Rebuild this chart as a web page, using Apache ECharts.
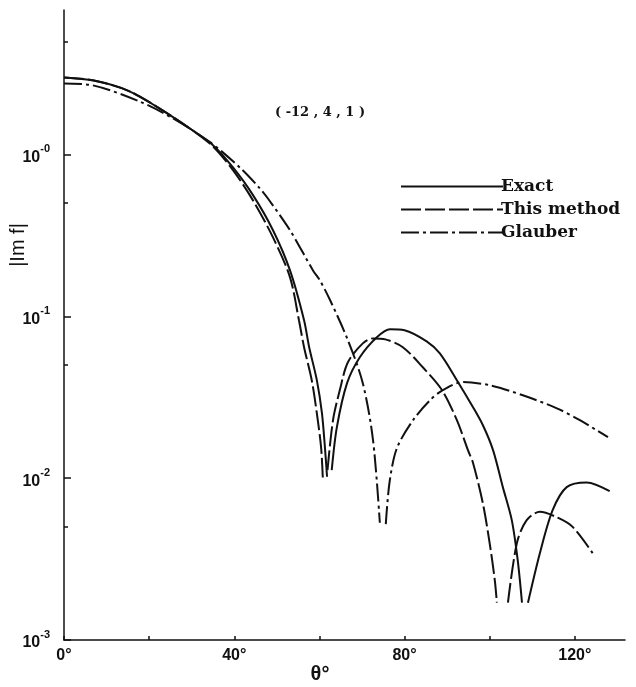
<!DOCTYPE html>
<html>
<head>
<meta charset="utf-8">
<title>|Im f| vs θ</title>
<script src="https://cdn.jsdelivr.net/npm/echarts@6/dist/echarts.min.js"></script>
<style>
  html, body { margin: 0; padding: 0; background: #fff; }
  #chart { width: 636px; height: 687px; }
</style>
</head>
<body>
<div id="chart"></div>
<script>
// angles in degrees, |Im f|; null = gap where the curve hits zero
const exactTheta = [0, 7, 15, 22.5, 30, 35, 39.7, 44.4, 49.1, 53.1, 56.4, 57.6, 59.4, 60.6, 61.3, 61.8, 62.3, 62.9, 64.1, 66.5, 69.5, 73.5, 76.6, 80, 85.2, 88.3, 92.3, 96.1, 98.5, 100.8, 103.1, 105.2, 106.6, 107.6, 108.3, 109, 111.8, 114.8, 118.1, 122.8, 128.2]
const exactValues = [2.99, 2.86, 2.48, 1.92, 1.42, 1.14, 0.83, 0.56, 0.34, 0.192, 0.0945, 0.0644, 0.0403, 0.0252, 0.0155, 0.0102, null, 0.0112, 0.0206, 0.0386, 0.0558, 0.0742, 0.0832, 0.082, 0.07, 0.059, 0.0403, 0.0274, 0.021, 0.0149, 0.0088, 0.0055, 0.0031, 0.0017, null, 0.0017, 0.00344, 0.00634, 0.0088, 0.0094, 0.0083]

const methodTheta = [0, 7, 15, 22.5, 30, 35, 39.7, 44.4, 49.1, 53.1, 55.2, 56.4, 58.2, 59.4, 60.4, 60.8, 61.3, 61.9, 63.2, 64.8, 66.7, 70.2, 72.6, 75.5, 79.6, 84.3, 88.8, 92.3, 94.9, 96.1, 98.4, 100, 101.2, 101.7, 102.9, 104.3, 106.4, 108.7, 111.8, 116, 119.5, 124.2]
const methodValues = [2.99, 2.86, 2.48, 1.92, 1.42, 1.12, 0.8, 0.52, 0.307, 0.174, 0.0945, 0.0644, 0.0403, 0.0252, 0.0155, 0.0101, null, 0.0112, 0.0228, 0.035, 0.052, 0.068, 0.073, 0.072, 0.0644, 0.0484, 0.035, 0.0228, 0.0149, 0.0124, 0.007, 0.00397, 0.00235, 0.0017, null, 0.0017, 0.00397, 0.0055, 0.0062, 0.0057, 0.005, 0.00344]

const glauberTheta = [0, 6.8, 17.8, 25.6, 34.3, 41.3, 46, 48, 53.1, 58.5, 60.1, 62.5, 66.7, 70.2, 72.6, 74.2, 74.9, 75.6, 76.5, 78.2, 82, 86, 89, 93.7, 100, 107.8, 115.8, 121.2, 127.8]
const glauberValues = [2.74, 2.67, 2.12, 1.67, 1.19, 0.83, 0.617, 0.53, 0.34, 0.192, 0.167, 0.126, 0.0711, 0.0386, 0.0172, 0.0053, null, 0.0052, 0.0095, 0.0153, 0.0228, 0.0303, 0.035, 0.0392, 0.0375, 0.0325, 0.027, 0.0228, 0.0179]

const xTicks = [0, 20, 40, 60, 80, 100, 120]
const xLabels = [0, 40, 80, 120]
const yTicks = [0.001, 0.01, 0.1, 1]
const yExponents = ['-3', '-2', '-1', '-0']
const yMinorTicks = [0.005, 0.05, 0.5, 5]

const pairs = (xs, ys) => xs.map((x, i) => [x, ys[i] === null ? '-' : ys[i]])

const chart = echarts.init(document.getElementById('chart'))

const axisColor = '#111'

const option = {
  backgroundColor: '#fff',
  animation: false,
  grid: { left: 64, right: 11, top: 10, bottom: 47 },
  legend: {
    orient: 'vertical',
    left: 395,
    top: 173,
    itemWidth: 102,
    itemHeight: 14,
    itemGap: 6,
    itemStyle: { opacity: 0 },
    textStyle: {
      color: '#111',
      fontFamily: 'DejaVu Serif',
      fontWeight: 'bold',
      fontSize: 17,
      padding: [0, 0, 0, -7]
    },
    data: ['Exact', 'This method', 'Glauber']
  },
  graphic: [
    {
      type: 'text',
      x: 320, y: 113,
      style: {
        text: '( -12 , 4 , 1 )',
        font: 'bold 13px "DejaVu Serif"',
        fill: '#111',
        align: 'center',
        verticalAlign: 'middle'
      }
    },
    {
      type: 'text',
      x: 18, y: 245,
      rotation: Math.PI / 2,
      style: {
        text: '|Im f|',
        font: '20px "Liberation Sans"',
        fill: '#111',
        align: 'center',
        verticalAlign: 'middle'
      }
    },
    {
      type: 'text',
      x: 320, y: 674,
      style: {
        text: 'θ°',
        font: 'bold 20px "Liberation Sans"',
        fill: '#111',
        align: 'center',
        verticalAlign: 'middle'
      }
    }
  ],
  xAxis: {
    type: 'value',
    min: 0,
    max: 131.8,
    axisLine: { lineStyle: { color: axisColor, width: 1.5 } },
    axisTick: { inside: true, length: 4, customValues: xTicks, lineStyle: { color: axisColor, width: 1.5 } },
    axisLabel: {
      customValues: xLabels,
      margin: 8,
      color: '#111',
      fontFamily: 'Liberation Sans',
      fontWeight: 'bold',
      fontSize: 16,
      formatter: v => v + '°'
    },
    splitLine: { show: false }
  },
  yAxis: [
    {
      type: 'log',
      logBase: 10,
      min: 0.001,
      max: 7.8,
      axisLine: { show: true, lineStyle: { color: axisColor, width: 1.5 } },
      axisTick: { inside: true, length: 7, customValues: yTicks, lineStyle: { color: axisColor, width: 1.5 } },
      axisLabel: {
        customValues: yTicks,
        margin: 14,
        color: '#111',
        formatter: v => {
          const i = yTicks.findIndex(t => Math.abs(t - v) / t < 1e-6)
          return '{b|10}{s|' + yExponents[i] + '}'
        },
        rich: {
          b: { fontSize: 16, fontWeight: 'bold', fontFamily: 'Liberation Sans', lineHeight: 22, verticalAlign: 'bottom', color: '#111' },
          s: { fontSize: 11, fontWeight: 'bold', fontFamily: 'Liberation Sans', lineHeight: 11, verticalAlign: 'top', color: '#111' }
        }
      },
      splitLine: { show: false }
    },
    {
      // minor ticks at 5 x 10^n
      type: 'log',
      logBase: 10,
      min: 0.001,
      max: 7.8,
      position: 'left',
      axisLine: { show: false },
      axisTick: { inside: true, length: 4, customValues: yMinorTicks, lineStyle: { color: axisColor, width: 1.5 } },
      axisLabel: { show: false },
      splitLine: { show: false }
    }
  ],
  series: [
    {
      name: 'Exact',
      type: 'line',
      data: pairs(exactTheta, exactValues),
      symbol: 'none',
      smooth: 0.3,
      connectNulls: false,
      itemStyle: { color: '#111' },
      lineStyle: { color: '#111', width: 2, type: 'solid' }
    },
    {
      name: 'This method',
      type: 'line',
      data: pairs(methodTheta, methodValues),
      symbol: 'none',
      smooth: 0.3,
      connectNulls: false,
      itemStyle: { color: '#111' },
      lineStyle: { color: '#111', width: 2, type: [20, 4] }
    },
    {
      name: 'Glauber',
      type: 'line',
      data: pairs(glauberTheta, glauberValues),
      symbol: 'none',
      smooth: 0.3,
      connectNulls: false,
      itemStyle: { color: '#111' },
      lineStyle: { color: '#111', width: 2, type: [18, 4, 3, 4] }
    }
  ]
}

chart.setOption(option)
</script>
</body>
</html>
